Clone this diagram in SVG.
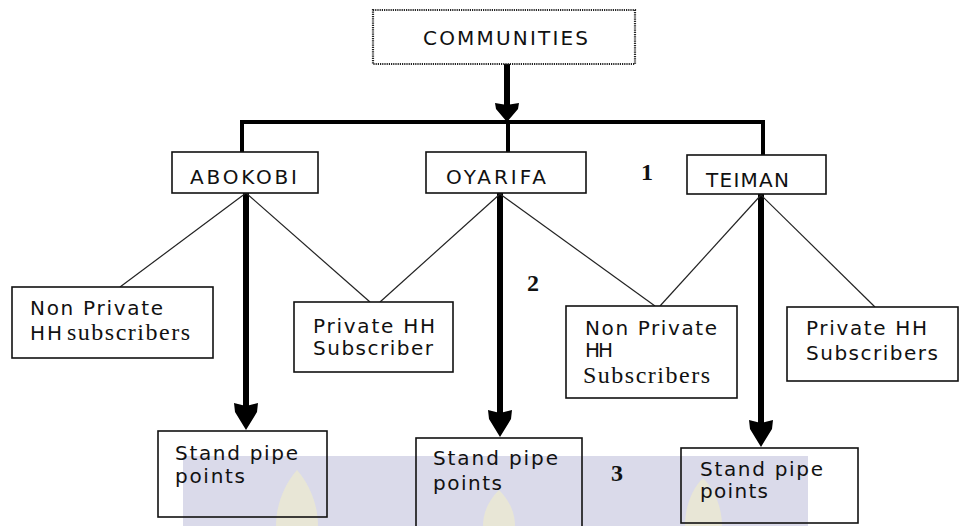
<svg xmlns="http://www.w3.org/2000/svg" width="960" height="526" viewBox="0 0 960 526">
<defs>
<style>
.box{fill:#fff;stroke:#111;stroke-width:1.6}
.open{fill:none;stroke:#111;stroke-width:1.6}
.dot{fill:#fff;stroke:#222;stroke-width:2.2;stroke-dasharray:1.2 1}
.t{font-family:"DejaVu Sans","Liberation Sans",sans-serif;font-size:20px;fill:#111}
.s{font-family:"Liberation Serif","DejaVu Serif",serif;font-size:24px;fill:#111}
.n{font-family:"Liberation Serif","DejaVu Serif",serif;font-size:24px;font-weight:bold;fill:#111}
.thin{stroke:#222;stroke-width:1.2;fill:none}
.thick{stroke:#000;stroke-width:6;fill:none}
.bar{stroke:#000;stroke-width:4;fill:none;stroke-linejoin:miter}
.wm{fill:#dadaea}
.fl{fill:#e8e6d6}
</style>
<marker id="ah" markerUnits="userSpaceOnUse" viewBox="0 0 27 24" markerWidth="27" markerHeight="24" refX="12" refY="12" orient="auto">
<path d="M0,0 L9,1 L27,12 L9,23 L0,24 L3,12 Z" fill="#000"/>
</marker>
<marker id="ahs" markerUnits="userSpaceOnUse" viewBox="0 0 19 24" markerWidth="19" markerHeight="24" refX="6" refY="12" orient="auto">
<path d="M0,0 L6,1 L19,12 L6,23 L0,24 L2,12 Z" fill="#000"/>
</marker>
</defs>
<rect width="960" height="526" fill="#fff"/>
<g id="watermark">
<rect class="wm" x="183" y="456" width="625" height="70"/>
<path class="fl" d="M297,470 C310,485 318,505 318,526 L276,526 C276,505 284,485 297,470 Z"/>
<path class="fl" d="M499,490 C509,500 515,512 515,526 L483,526 C483,512 489,500 499,490 Z"/>
<path class="fl" d="M703,478 C715,490 722,508 722,526 L685,526 C685,508 691,490 703,478 Z"/>
</g>
<g id="connectors">
<path class="bar" d="M242,152 V122 H763 V155"/>
<line class="bar" x1="508" y1="122" x2="508" y2="152"/>
<line class="thick" x1="507" y1="64" x2="507" y2="109" marker-end="url(#ahs)"/>
<line class="thick" x1="246" y1="193" x2="246" y2="415" marker-end="url(#ah)"/>
<line class="thick" x1="500" y1="193" x2="500" y2="422" marker-end="url(#ah)"/>
<line class="thick" x1="761" y1="194" x2="761" y2="432" marker-end="url(#ah)"/>
<line class="thin" x1="246" y1="193" x2="120" y2="287"/>
<line class="thin" x1="246" y1="193" x2="370" y2="302"/>
<line class="thin" x1="500" y1="194" x2="380" y2="302"/>
<line class="thin" x1="500" y1="194" x2="655" y2="306"/>
<line class="thin" x1="761" y1="195" x2="660" y2="306"/>
<line class="thin" x1="761" y1="195" x2="875" y2="307"/>
</g>
<g id="communities">
<rect class="dot" x="373" y="10" width="262" height="54"/>
<text class="t" x="423" y="45" textLength="165" lengthAdjust="spacing">COMMUNITIES</text>
</g>
<g id="abokobi">
<rect class="box" x="172" y="152" width="146" height="41"/>
<text class="t" x="190" y="184" textLength="107" lengthAdjust="spacing">ABOKOBI</text>
</g>
<g id="oyarifa">
<rect class="box" x="426" y="152" width="160" height="41"/>
<text class="t" x="446" y="184" textLength="100" lengthAdjust="spacing">OYARIFA</text>
</g>
<g id="teiman">
<rect class="box" x="687" y="155" width="139" height="39"/>
<text class="t" x="706" y="187" textLength="83" lengthAdjust="spacing">TEIMAN</text>
</g>
<g id="labels">
<text class="n" x="641" y="180">1</text>
<text class="n" x="527" y="291">2</text>
<text class="n" x="611" y="481">3</text>
</g>
<g id="abokobi-nonprivate">
<rect class="box" x="12" y="287" width="201" height="71"/>
<text class="t" x="30" y="315" textLength="133" lengthAdjust="spacing">Non Private</text>
<text class="t" x="30" y="340" textLength="32" lengthAdjust="spacing">HH</text>
<text class="s" x="67" y="340" textLength="123" lengthAdjust="spacing">subscribers</text>
</g>
<g id="private-subscriber">
<rect class="box" x="294" y="302" width="159" height="70"/>
<text class="t" x="313" y="333" textLength="122" lengthAdjust="spacing">Private HH</text>
<text class="t" x="313" y="355" textLength="120" lengthAdjust="spacing">Subscriber</text>
</g>
<g id="teiman-nonprivate">
<rect class="box" x="566" y="306" width="171" height="92"/>
<text class="t" x="585" y="335" textLength="132" lengthAdjust="spacing">Non Private</text>
<text class="t" x="585" y="357" textLength="28" lengthAdjust="spacing">HH</text>
<text class="s" x="583" y="383" font-size="26" textLength="127" lengthAdjust="spacing">Subscribers</text>
</g>
<g id="private-subscribers">
<rect class="box" x="787" y="307" width="171" height="74"/>
<text class="t" x="806" y="335" textLength="121" lengthAdjust="spacing">Private HH</text>
<text class="t" x="806" y="360" textLength="132" lengthAdjust="spacing">Subscribers</text>
</g>
<g id="standpipe-1">
<rect class="open" x="158" y="431" width="169" height="86"/>
<text class="t" x="175" y="460" textLength="123" lengthAdjust="spacing">Stand pipe</text>
<text class="t" x="175" y="483" textLength="70" lengthAdjust="spacing">points</text>
</g>
<g id="standpipe-2">
<rect class="open" x="416" y="438" width="166" height="100"/>
<text class="t" x="433" y="465" textLength="125" lengthAdjust="spacing">Stand pipe</text>
<text class="t" x="433" y="490" textLength="69" lengthAdjust="spacing">points</text>
</g>
<g id="standpipe-3">
<rect class="open" x="681" y="448" width="177" height="75"/>
<text class="t" x="700" y="476" textLength="123" lengthAdjust="spacing">Stand pipe</text>
<text class="t" x="700" y="498" textLength="68" lengthAdjust="spacing">points</text>
</g>
</svg>
